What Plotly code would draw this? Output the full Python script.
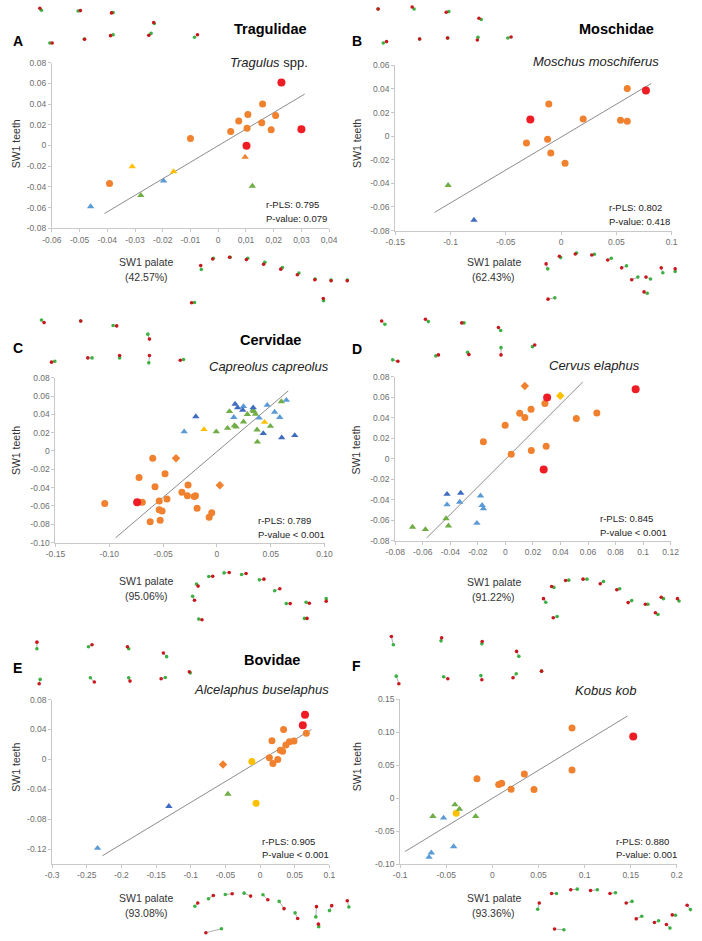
import plotly.graph_objects as go

W, H = 702, 941

# ---------------- data ----------------
# Panel A  Tragulus spp.
A_red = [(0.0228, 0.0609), (0.0300, 0.0156), (0.0102, -0.0002)]
A_orange = [(0.0160, 0.0400), (0.0107, 0.0300), (0.0074, 0.0236), (0.0104, 0.0166),
            (0.0045, 0.0134), (0.0157, 0.0220), (0.0191, 0.0153), (0.0207, 0.0290),
            (-0.0100, 0.0067), (-0.0392, -0.0367)]
A_orange_tri = [(0.0097, -0.0112)]
A_yellow_tri = [(-0.0310, -0.0204), (-0.0161, -0.0252)]
A_green_tri = [(-0.0279, -0.0481), (0.0123, -0.0392)]
A_lblue_tri = [(-0.0460, -0.0590), (-0.0197, -0.0341)]
A_fit = [(-0.0410, -0.0657), (0.0312, 0.0497)]

# Panel B  Moschus moschiferus
B_red = [(0.0768, 0.0387), (-0.0278, 0.0141)]
B_orange = [(0.0599, 0.0404), (-0.0111, 0.0273), (0.0200, 0.0146), (0.0538, 0.0135),
            (0.0599, 0.0127), (-0.0313, -0.0058), (-0.0122, -0.0027), (-0.0093, -0.0142),
            (0.0036, -0.0229)]
B_green_tri = [(-0.1022, -0.0416)]
B_dblue_tri = [(-0.0788, -0.0711)]
B_fit = [(-0.1145, -0.0646), (0.0815, 0.0446)]

# Panel C  Capreolus capreolus
C_red = [(-0.0741, -0.0560)]
C_orange = [(-0.0596, -0.0080), (-0.0723, -0.0289), (-0.0575, -0.0390), (-0.0482, -0.0250),
            (-0.1042, -0.0575), (-0.0693, -0.0560), (-0.0536, -0.0546), (-0.0464, -0.0524),
            (-0.0536, -0.0643), (-0.0509, -0.0657), (-0.0620, -0.0772), (-0.0527, -0.0758),
            (-0.0325, -0.0450), (-0.0274, -0.0489), (-0.0268, -0.0373), (-0.0211, -0.0496),
            (-0.0184, -0.0625), (-0.0072, -0.0725), (-0.0048, -0.0676), (-0.0199, -0.0489)]
C_orange_dia = [(-0.0380, -0.0080), (0.0027, -0.0374)]
C_yellow_tri = [(-0.0120, 0.0235), (0.0443, 0.0314)]
C_green_tri = [(0.0117, 0.0432), (0.0099, 0.0249), (-0.0006, 0.0210), (0.0163, 0.0278),
               (0.0178, 0.0264), (0.0247, 0.0318), (0.0283, 0.0400), (0.0334, 0.0447),
               (0.0343, 0.0432), (0.0358, 0.0403), (0.0373, 0.0231), (0.0497, 0.0270),
               (0.0376, 0.0098), (0.0599, 0.0540)]
C_lblue_tri = [(-0.0304, 0.0210), (0.0157, 0.0368), (0.0247, 0.0486), (0.0392, 0.0360),
               (0.0467, 0.0500), (0.0536, 0.0425), (0.0584, 0.0368), (0.0645, 0.0555)]
C_dblue_tri = [(0.0169, 0.0512), (0.0193, 0.0472), (0.0240, 0.0447), (0.0337, 0.0472),
               (-0.0196, 0.0375), (0.0431, 0.0192), (0.0602, 0.0145), (0.0723, 0.0170)]
C_fit = [(-0.0943, -0.0950), (0.0663, 0.0656)]

# Panel D  Cervus elaphus
D_red = [(0.0946, 0.0678), (0.0303, 0.0598), (0.0278, -0.0103)]
D_orange = [(0.0287, 0.0540), (0.0186, 0.0482), (0.0104, 0.0443), (0.0141, 0.0402),
            (-0.0002, 0.0328), (-0.0160, 0.0167), (0.0515, 0.0392), (0.0664, 0.0447),
            (0.0042, 0.0045), (0.0188, 0.0080), (0.0296, 0.0122)]
D_orange_dia = [(0.0141, 0.0710)]
D_yellow_dia = [(0.0398, 0.0614)]
D_green_tri = [(-0.0675, -0.0665), (-0.0581, -0.0688), (-0.0431, -0.0582), (-0.0414, -0.0652)]
D_lblue_tri = [(-0.0424, -0.0447), (-0.0332, -0.0421), (-0.0181, -0.0360), (-0.0169, -0.0453),
               (-0.0160, -0.0485), (-0.0207, -0.0627)]
D_dblue_tri = [(-0.0424, -0.0344), (-0.0325, -0.0334)]
D_fit = [(-0.0572, -0.0771), (0.0562, 0.0749)]

# Panel E  Alcelaphus buselaphus
E_red = [(0.0648, 0.0597), (0.0616, 0.0456)]
E_orange = [(0.0667, 0.0350), (0.0339, 0.0399), (0.0171, 0.0249), (0.0489, 0.0245),
            (0.0423, 0.0236), (0.0372, 0.0192), (0.0292, 0.0121), (0.0325, 0.0108),
            (0.0134, 0.0020), (0.0185, -0.0055), (0.0255, -0.0002)]
E_orange_dia = [(-0.0535, -0.0068)]
E_yellow = [(-0.0119, -0.0029), (-0.0058, -0.0588)]
E_green_tri = [(-0.0465, -0.0464)]
E_dblue_tri = [(-0.1316, -0.0627)]
E_lblue_tri = [(-0.2345, -0.1187)]
E_fit = [(-0.2275, -0.1289), (0.0742, 0.0399)]

# Panel F  Kobus kob
F_red = [(0.1528, 0.0935)]
F_orange = [(0.0864, 0.1065), (0.0864, 0.0425), (0.0347, 0.0365), (0.0452, 0.0130),
            (0.0203, 0.0135), (0.0101, 0.0225), (0.0069, 0.0205), (-0.0167, 0.0295)]
F_yellow = [(-0.0392, -0.0230)]
F_green_tri = [(-0.0406, -0.0100), (-0.0357, -0.0165), (-0.0645, -0.0275), (-0.0181, -0.0275)]
F_lblue_tri = [(-0.0529, -0.0300), (-0.0420, -0.0735), (-0.0662, -0.0830), (-0.0687, -0.0895)]
F_fit = [(-0.0947, -0.0810), (0.1465, 0.1245)]

# tick values / labels
A_xticks = [-0.06, -0.05, -0.04, -0.03, -0.02, -0.01, 0, 0.01, 0.02, 0.03, 0.04]
A_xlabels = ["-0.06", "-0.05", "-0.04", "-0.03", "-0.02", "-0.01", "0", "0,01", "0,02", "0,03", "0,04"]
A_yticks = [-0.08, -0.06, -0.04, -0.02, 0, 0.02, 0.04, 0.06, 0.08]
A_ylabels = ["-0.08", "-0.06", "-0.04", "-0.02", "0", "0.02", "0.04", "0.06", "0.08"]
B_xticks = [-0.15, -0.1, -0.05, 0, 0.05, 0.1]
B_xlabels = ["-0.15", "-0.1", "-0.05", "0", "0.05", "0.1"]
B_yticks = [-0.08, -0.06, -0.04, -0.02, 0, 0.02, 0.04, 0.06]
B_ylabels = ["-0.08", "-0.06", "-0.04", "-0.02", "0", "0.02", "0.04", "0.06"]
C_xticks = [-0.15, -0.10, -0.05, 0, 0.05, 0.10]
C_xlabels = ["-0.15", "-0.10", "-0.05", "0", "0.05", "0.10"]
C_yticks = [-0.10, -0.08, -0.06, -0.04, -0.02, 0, 0.02, 0.04, 0.06, 0.08]
C_ylabels = ["-0.10", "-0.08", "-0.06", "-0.04", "-0.02", "0", "0.02", "0.04", "0.06", "0.08"]
D_xticks = [-0.08, -0.06, -0.04, -0.02, 0, 0.02, 0.04, 0.06, 0.08, 0.1, 0.12]
D_xlabels = ["-0.08", "-0.06", "-0.04", "-0.02", "0", "0.02", "0.04", "0.06", "0.08", "0.1", "0.12"]
D_yticks = A_yticks
D_ylabels = A_ylabels
E_xticks = [-0.3, -0.25, -0.2, -0.15, -0.1, -0.05, 0, 0.05, 0.1]
E_xlabels = ["-0.3", "-0.25", "-0.2", "-0.15", "-0.1", "-0.05", "0", "0.05", "0.1"]
E_yticks = [-0.12, -0.08, -0.04, 0, 0.04, 0.08]
E_ylabels = ["-0.12", "-0.08", "-0.04", "0", "0.04", "0.08"]
F_xticks = [-0.1, -0.05, 0, 0.05, 0.1, 0.15, 0.2]
F_xlabels = ["-0.1", "-0.05", "0", "0.05", "0.1", "0.15", "0.2"]
F_yticks = [-0.10, -0.05, 0, 0.05, 0.10, 0.15]
F_ylabels = ["-0.10", "-0.05", "0", "0.05", "0.10", "0.15"]

letters = ["A", "B", "C", "D", "E", "F"]
family_names = ["Tragulidae", "Moschidae", "Cervidae", "", "Bovidae", ""]
species = ["<i>Tragulus</i> spp.", "<i>Moschus moschiferus</i>", "<i>Capreolus capreolus</i>",
           "<i>Cervus elaphus</i>", "<i>Alcelaphus buselaphus</i>", "<i>Kobus kob</i>"]
r_pls = ["0.795", "0.802", "0.789", "0.845", "0.905", "0.880"]
p_vals = [": 0.079", ": 0.418", " < 0.001", " < 0.001", " < 0.001", ": 0.001"]
variance = ["42.57%", "62.43%", "95.06%", "91.22%", "93.08%", "93.36%"]

# landmark configurations: (red_x, red_y, green_x, green_y) in local sketch units
A_top = [(92, 10, 97, 16), (217, 17, 210, 18), (313, 24, 318, 23), (443, 53, 445, 56), (130, 115, 123, 115),
         (230, 104, 229, 103), (310, 93, 318, 90), (428, 92, 435, 86), (578, 90, 569, 98)]
A_bottom = [(588, 790, 590, 802), (625, 770, 627, 768), (677, 765, 679, 765), (729, 772, 733, 768),
            (782, 786, 786, 780), (835, 801, 840, 796), (886, 818, 891, 813), (940, 833, 941, 831),
            (990, 836, 990, 834), (1040, 836, 1040, 834), (966, 890, 967, 897), (560, 903, 569, 902)]
B_top = [(82, 12, 82, 12), (187, 6, 193, 12), (292, 22, 300, 20), (393, 40, 400, 44), (108, 111, 98, 115),
         (210, 103, 210, 103), (296, 100, 297, 100), (388, 106, 390, 98), (492, 97, 482, 100)]
B_bottom = [(600, 785, 605, 800), (641, 762, 645, 766), (690, 755, 694, 752), (741, 758, 749, 756),
            (790, 773, 801, 768), (833, 797, 848, 791), (864, 833, 883, 825), (908, 825, 922, 831),
            (955, 797, 960, 812), (998, 800, 998, 808), (902, 870, 912, 874), (606, 892, 627, 888)]
C_top = [(105, 33, 97, 25), (218, 28, 218, 28), (329, 43, 318, 42), (430, 83, 425, 68), (128, 153, 138, 150),
         (240, 140, 253, 140), (338, 133, 338, 140), (430, 133, 428, 155), (525, 147, 535, 145)]
C_bottom = [(580, 832, 575, 826), (625, 802, 613, 803), (676, 791, 660, 792), (728, 794, 714, 797),
            (783, 811, 769, 813), (832, 840, 816, 846), (864, 885, 852, 885), (923, 884, 913, 881),
            (975, 878, 975, 870), (569, 875, 563, 863), (592, 934, 582, 932), (916, 930, 908, 930)]
D_top = [(93, 28, 103, 38), (228, 23, 237, 30), (340, 34, 347, 34), (453, 48, 460, 57), (143, 150, 127, 146),
         (268, 131, 260, 134), (362, 130, 358, 123), (461, 131, 461, 109), (565, 101, 558, 106)]
D_bottom = [(617, 833, 624, 836), (660, 815, 670, 814), (714, 811, 726, 811), (767, 825, 777, 818),
            (818, 843, 827, 840), (853, 882, 864, 876), (906, 887, 914, 887), (955, 866, 962, 870),
            (1005, 870, 1010, 877), (592, 870, 599, 881), (622, 928, 634, 924), (937, 913, 945, 918)]
E_top = [(83, 42, 83, 62), (253, 50, 242, 56), (362, 56, 366, 62), (473, 75, 483, 86), (553, 132, 556, 135),
         (90, 168, 93, 155), (260, 163, 248, 150), (370, 160, 366, 150), (466, 153, 479, 149)]
E_bottom = [(579, 833, 570, 843), (627, 810, 612, 820), (685, 805, 664, 807), (742, 812, 722, 803),
            (795, 823, 780, 808), (845, 850, 830, 828), (887, 880, 879, 863), (945, 844, 943, 875),
            (992, 841, 985, 856), (1040, 826, 1045, 845), (604, 923, 652, 911), (951, 897, 952, 905)]
F_top = [(123, 25, 129, 50), (278, 29, 276, 38), (403, 40, 402, 47), (509, 70, 516, 85), (586, 130, 586, 130),
         (146, 168, 138, 145), (297, 153, 284, 147), (402, 156, 399, 143), (498, 150, 508, 138)]
F_bottom = [(579, 833, 574, 852), (617, 804, 632, 804), (676, 793, 696, 791), (737, 795, 758, 793),
            (797, 804, 814, 802), (847, 833, 865, 828), (878, 881, 895, 873), (934, 892, 947, 887),
            (989, 869, 999, 870), (1035, 840, 1045, 853), (971, 898, 982, 909), (626, 912, 655, 914)]

# ---------------- styling ----------------
FONT = "Liberation Sans, Arial, sans-serif"
COL = {"red": "#ee1c24", "orange": "#f0812e", "yellow": "#ffc000", "green": "#70ad47",
       "lblue": "#5b9bd5", "dblue": "#3f6cc0"}
AXIS_LINE = "#c9c9c9"
TICK_FONT = dict(family=FONT, size=8.5, color="#6e6e6e")

def px2x(p):
    return p / W

def px2y(p):
    return 1 - p / H

# plot-area boxes in page pixels: (x0, x1, y_top, y_bottom) and ranges
panels = [
    dict(box=(43, 328, 58.3, 225.7), xr=(-0.06, 0.04), yr=(-0.08, 0.08), xt=A_xticks, xl=A_xlabels,
         yt=A_yticks, yl=A_ylabels, fit=A_fit,
         groups=[("orange", "circle", A_orange), ("red", "circle", A_red), ("orange", "triangle-up", A_orange_tri),
                 ("yellow", "triangle-up", A_yellow_tri), ("green", "triangle-up", A_green_tri),
                 ("lblue", "triangle-up", A_lblue_tri)]),
    dict(box=(396, 680, 61, 228), xr=(-0.15, 0.1), yr=(-0.08, 0.06), xt=B_xticks, xl=B_xlabels,
         yt=B_yticks, yl=B_ylabels, fit=B_fit,
         groups=[("orange", "circle", B_orange), ("red", "circle", B_red), ("green", "triangle-up", B_green_tri),
                 ("dblue", "triangle-up", B_dblue_tri)]),
    dict(box=(46.7, 323.3, 376.7, 543.3), xr=(-0.15, 0.10), yr=(-0.10, 0.08), xt=C_xticks, xl=C_xlabels,
         yt=C_yticks, yl=C_ylabels, fit=C_fit,
         groups=[("orange", "circle", C_orange), ("red", "circle", C_red), ("orange", "diamond", C_orange_dia),
                 ("green", "triangle-up", C_green_tri), ("lblue", "triangle-up", C_lblue_tri),
                 ("dblue", "triangle-up", C_dblue_tri), ("yellow", "triangle-up", C_yellow_tri)]),
    dict(box=(396, 679, 375.7, 541.7), xr=(-0.08, 0.12), yr=(-0.08, 0.08), xt=D_xticks, xl=D_xlabels,
         yt=D_yticks, yl=D_ylabels, fit=D_fit,
         groups=[("orange", "circle", D_orange), ("red", "circle", D_red), ("orange", "diamond", D_orange_dia),
                 ("yellow", "diamond", D_yellow_dia), ("green", "triangle-up", D_green_tri),
                 ("lblue", "triangle-up", D_lblue_tri), ("dblue", "triangle-up", D_dblue_tri)]),
    dict(box=(43.3, 328.3, 702, 868.3), xr=(-0.3, 0.1), yr=(-0.14, 0.08), xt=E_xticks, xl=E_xlabels,
         yt=E_yticks, yl=E_ylabels, fit=E_fit,
         groups=[("orange", "circle", E_orange), ("red", "circle", E_red), ("orange", "diamond", E_orange_dia),
                 ("yellow", "circle", E_yellow), ("green", "triangle-up", E_green_tri),
                 ("dblue", "triangle-up", E_dblue_tri), ("lblue", "triangle-up", E_lblue_tri)]),
    dict(box=(401, 685.3, 701.7, 868.3), xr=(-0.1, 0.2), yr=(-0.10, 0.15), xt=F_xticks, xl=F_xlabels,
         yt=F_yticks, yl=F_ylabels, fit=F_fit,
         groups=[("orange", "circle", F_orange), ("red", "circle", F_red), ("yellow", "circle", F_yellow),
                 ("green", "triangle-up", F_green_tri), ("lblue", "triangle-up", F_lblue_tri)]),
]

# sketch cells (page px: x0, y0, w, h) for landmark overlays
cells = [(0, 0, 351, 320), (351, 0, 351, 320), (0, 310, 351, 320),
         (351, 310, 351, 320), (0, 630, 351, 311), (351, 630, 351, 311)]
shapes_lm = [(A_top, A_bottom), (B_top, B_bottom), (C_top, C_bottom),
             (D_top, D_bottom), (E_top, E_bottom), (F_top, F_bottom)]

fig = go.Figure()
layout = dict(width=W, height=H, margin=dict(l=0, r=0, t=0, b=0),
              paper_bgcolor="white", plot_bgcolor="rgba(0,0,0,0)", showlegend=False)
annotations = []

# landmark overlays (axes 7..12)
for i, ((cx, cy, cw, ch), (top, bot)) in enumerate(zip(cells, shapes_lm)):
    n = i + 7
    xa, ya = f"x{n}", f"y{n}"
    layout[f"xaxis{n}"] = dict(domain=[px2x(cx), px2x(cx + cw)], range=[0, cw * 3], visible=False,
                               fixedrange=True, anchor=ya)
    layout[f"yaxis{n}"] = dict(domain=[px2y(cy + ch), px2y(cy)], range=[ch * 3, 0], visible=False,
                               fixedrange=True, anchor=xa)
    for conf in (top, bot):
        lx, ly = [], []
        for rx, ry, gx, gy in conf:
            lx += [rx, gx, None]
            ly += [ry, gy, None]
        fig.add_trace(go.Scatter(x=lx, y=ly, mode="lines", line=dict(color="#9a9a9a", width=0.8),
                                 xaxis=xa, yaxis=ya, hoverinfo="skip"))
        fig.add_trace(go.Scatter(x=[c[2] for c in conf], y=[c[3] for c in conf], mode="markers",
                                 marker=dict(color="#3cb043", size=3.6), xaxis=xa, yaxis=ya, hoverinfo="skip"))
        fig.add_trace(go.Scatter(x=[c[0] for c in conf], y=[c[1] for c in conf], mode="markers",
                                 marker=dict(color="#c8171e", size=3.6), xaxis=xa, yaxis=ya, hoverinfo="skip"))

# main scatter panels (axes 1..6)
for i, p in enumerate(panels):
    n = i + 1
    sfx = "" if n == 1 else str(n)
    xa, ya = f"x{sfx}", f"y{sfx}"
    x0, x1, yt, yb = p["box"]
    layout[f"xaxis{sfx}"] = dict(domain=[px2x(x0), px2x(x1)], range=list(p["xr"]), anchor=ya,
                                 tickvals=p["xt"], ticktext=p["xl"], showline=True, linecolor=AXIS_LINE,
                                 linewidth=1, ticks="outside", ticklen=3, tickcolor=AXIS_LINE,
                                 showgrid=False, zeroline=False, tickfont=TICK_FONT, fixedrange=True)
    layout[f"yaxis{sfx}"] = dict(domain=[px2y(yb), px2y(yt)], range=list(p["yr"]), anchor=xa,
                                 tickvals=p["yt"], ticktext=p["yl"], showline=True, linecolor=AXIS_LINE,
                                 linewidth=1, ticks="outside", ticklen=3, tickcolor=AXIS_LINE,
                                 showgrid=False, zeroline=False, tickfont=TICK_FONT, fixedrange=True)
    fx = [pt[0] for pt in p["fit"]]
    fy = [pt[1] for pt in p["fit"]]
    fig.add_trace(go.Scatter(x=fx, y=fy, mode="lines", line=dict(color="#8c8c8c", width=1),
                             xaxis=xa, yaxis=ya, hoverinfo="skip"))
    for col, sym, pts in p["groups"]:
        size = 7 if sym == "circle" else 6.5
        if col == "red":
            size = 8
        fig.add_trace(go.Scatter(x=[q[0] for q in pts], y=[q[1] for q in pts], mode="markers",
                                 marker=dict(color=COL[col], symbol=sym, size=size, line=dict(width=0)),
                                 xaxis=xa, yaxis=ya))

# text annotations (page pixel positions)
def ann(text, x, y, size, xanchor="left", color="#000", angle=0, bold=False):
    if bold:
        text = f"<b>{text}</b>"
    annotations.append(dict(text=text, x=px2x(x), y=px2y(y), xref="paper", yref="paper",
                            xanchor=xanchor, yanchor="middle", showarrow=False, textangle=angle,
                            font=dict(family=FONT, size=size, color=color)))

letter_pos = [(1, 36), (349, 36), (1, 347), (349, 348), (1, 670), (349, 668)]
family_pos = [(268, 24), (623, 24), (268, 339), (0, 0), (269, 662), (0, 0)]
species_pos = [(308, 58), (669, 57), (330, 365), (650, 364), (330, 692), (645, 693)]
stats_pos = [(261, 202), (614, 205), (253, 521), (604, 519), (257, 845), (621, 845)]
ytitle_pos = [(6, 140), (356, 140), (6, 450), (356, 450), (6, 770), (356, 770)]
xtitle_pos = [(140, 260), (497, 260), (140, 582), (497, 583), (140, 903), (497, 903)]

for i in range(6):
    ann(letters[i], *letter_pos[i], 14, bold=True)
    if family_names[i]:
        ann(family_names[i], *family_pos[i], 14.5, xanchor="center", bold=True)
    ann(species[i], *species_pos[i], 13, xanchor="right", color="#222")
    sx, sy = stats_pos[i]
    ann(f"r-PLS: {r_pls[i]}", sx, sy, 9.5, color="#222")
    ann(f"P-value{p_vals[i]}", sx, sy + 14, 9.5, color="#222")
    tx, ty = ytitle_pos[i]
    ann("SW1 teeth", tx, ty, 10.5, xanchor="center", color="#333", angle=-90)
    xx, xy = xtitle_pos[i]
    ann("SW1 palate", xx, xy, 10.5, xanchor="center", color="#333")
    ann(f"({variance[i]})", xx, xy + 15, 10.5, xanchor="center", color="#333")

layout["annotations"] = annotations
fig.update_layout(**layout)
fig.write_html("out.html")
